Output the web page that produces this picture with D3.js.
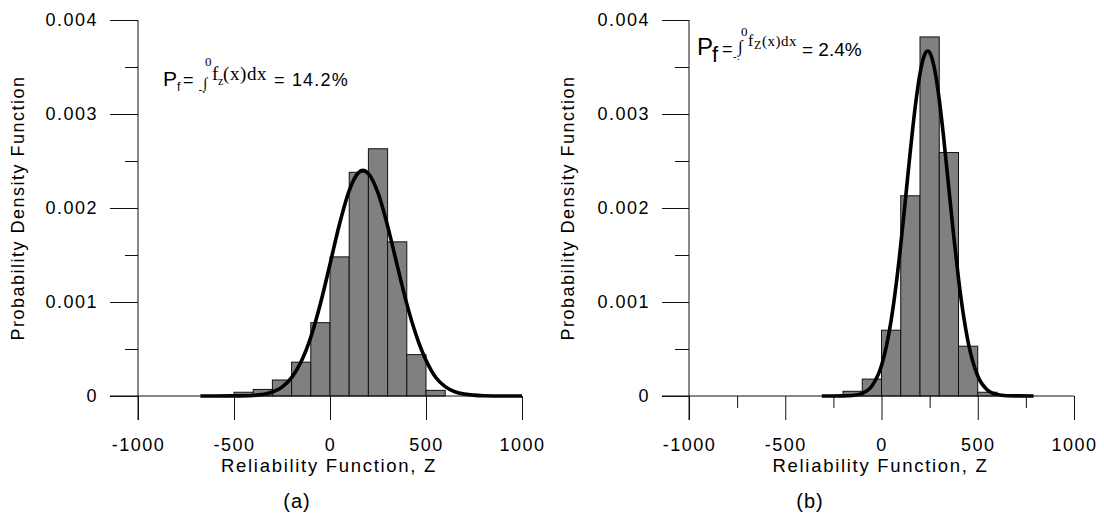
<!DOCTYPE html>
<html>
<head>
<meta charset="utf-8">
<script src="https://cdn.jsdelivr.net/npm/d3@7"></script>
<style>
  body { margin: 0; background: #fff; }
  svg { display: block; }
  text { font-family: "Liberation Sans", Arial, sans-serif; fill: #000; }
  .serif { font-family: "Liberation Serif", "Times New Roman", serif; }
</style>
</head>
<body>
<svg id="chart" width="1104" height="527"></svg>
<script>
// ---------- data ----------
const xTickValues = [-1000, -500, 0, 500, 1000];
const xTickLabels = ["-1000", "-500", "0", "500", "1000"];
const yTickValues = [0, 0.001, 0.002, 0.003, 0.004];
const yTickLabels = ["0", "0.001", "0.002", "0.003", "0.004"];
const yMinorValues = [0.0005, 0.0015, 0.0025, 0.0035];
const rightXMinorValues = [-750, -250, 250, 750];

// (a) histogram
const leftBinEdges = [-500, -400, -300, -200, -100, 0, 100, 200, 300, 400, 500, 600];
const leftBinHeights = [0.00004, 0.00007, 0.00017, 0.00036, 0.00078, 0.00148, 0.00238, 0.00263, 0.00164, 0.00044, 0.00006];
// (a) fitted density curve
const leftCurveX = [-675, -600, -500, -400, -300, -250, -200, -150, -100, -50, 0, 50, 100, 150, 172, 200, 250, 300, 350, 400, 450, 500, 550, 600, 650, 700, 800, 900, 1000];
const leftCurveY = [0, 0, 0.000001, 0.000006, 0.000042, 0.000095, 0.000195, 0.000366, 0.000627, 0.000982, 0.001403, 0.001832, 0.002185, 0.002379, 0.0024, 0.002366, 0.002160, 0.001810, 0.00139, 0.00098, 0.00064, 0.00038, 0.0002, 0.0001, 0.000045, 0.00002, 0.000003, 0, 0];

// (b) histogram
const rightBinEdges = [-200, -100, 0, 100, 200, 300, 400, 500, 600];
const rightBinHeights = [0.00005, 0.00018, 0.0007, 0.00213, 0.00382, 0.00259, 0.00053, 0.00004];
// (b) fitted density curve
const rightCurveX = [-310, -250, -200, -150, -100, -50, 0, 25, 50, 75, 100, 125, 150, 175, 200, 225, 240, 250, 275, 300, 325, 350, 375, 400, 425, 450, 500, 550, 600, 650, 700, 790];
const rightCurveY = [0, 0, 0.000001, 0.000006, 0.000028, 0.000106, 0.000325, 0.000525, 0.000804, 0.001167, 0.001609, 0.002104, 0.00261, 0.003073, 0.003431, 0.003635, 0.00367, 0.003655, 0.003485, 0.003154, 0.002708, 0.002206, 0.001704, 0.00125, 0.00087, 0.000574, 0.000213, 0.000064, 0.000016, 0.000003, 0.000001, 0];

const panelLabels = ["(a)", "(b)"];
const pfValues = ["14.2%", "2.4%"];
const xTitle = "Reliability Function, Z";
const yTitle = "Probability Density Function";

// ---------- drawing ----------
const svg = d3.select("#chart");
const LS = "1.5px";

function panel(cfg) {
  const x = d3.scaleLinear().domain([-1000, 1000]).range([cfg.x0, cfg.x1]);
  const y = d3.scaleLinear().domain([0, 0.004]).range([cfg.y0, cfg.y1]);
  const g = svg.append("g");

  // bars
  const bins = cfg.heights.map((h, i) => ({ a: cfg.edges[i], b: cfg.edges[i + 1], h }));
  g.selectAll("rect.bar").data(bins).enter().append("rect")
    .attr("x", d => x(d.a)).attr("width", d => x(d.b) - x(d.a))
    .attr("y", d => y(d.h)).attr("height", d => y(0) - y(d.h))
    .attr("fill", "#808080").attr("stroke", "#111").attr("stroke-width", 1);

  // curve
  const pts = cfg.cx.map((v, i) => [v, cfg.cy[i]]);
  g.append("path").datum(pts)
    .attr("d", d3.line().x(d => x(d[0])).y(d => y(d[1])).curve(d3.curveMonotoneX))
    .attr("fill", "none").attr("stroke", "#000").attr("stroke-width", 3.6)
    .attr("stroke-linejoin", "round");

  // y axis
  const yAxis = d3.axisLeft(y).tickValues(yTickValues).tickSize(cfg.yMajor)
    .tickFormat((d, i) => yTickLabels[i]).tickPadding(12);
  const ya = g.append("g").attr("transform", `translate(${cfg.x0},0)`).call(yAxis);
  ya.select(".domain").remove();
  ya.selectAll("text").style("font-size", "18px").style("letter-spacing", LS).attr("font-family", null);
  const yMinor = d3.axisLeft(y).tickValues(yMinorValues).tickSize(cfg.yMinor).tickFormat("");
  const ym = g.append("g").attr("transform", `translate(${cfg.x0},0)`).call(yMinor);
  ym.select(".domain").remove();

  // x axis (ticks down)
  const xAxis = d3.axisBottom(x).tickValues(xTickValues).tickSize(cfg.xMajor)
    .tickFormat((d, i) => xTickLabels[i]).tickPadding(18);
  const xa = g.append("g").attr("transform", `translate(0,${cfg.y0})`).call(xAxis);
  xa.select(".domain").remove();
  xa.selectAll("text").style("font-size", "18px").style("letter-spacing", LS).attr("font-family", null);
  if (cfg.xMinorValues) {
    const xm = g.append("g").attr("transform", `translate(0,${cfg.y0})`)
      .call(d3.axisBottom(x).tickValues(cfg.xMinorValues).tickSize(cfg.xMinor).tickFormat(""));
    xm.select(".domain").remove();
  }
  g.selectAll(".tick line").attr("stroke", "#111");

  // axis lines
  g.append("line").attr("x1", cfg.x0).attr("x2", cfg.x0).attr("y1", y(0.004)).attr("y2", cfg.y0 + cfg.xMajor)
    .attr("stroke", "#111");
  g.append("line").attr("x1", cfg.x0 - cfg.yMajor).attr("x2", cfg.x1).attr("y1", cfg.y0).attr("y2", cfg.y0)
    .attr("stroke", "#111");

  // titles
  g.append("text").attr("x", (cfg.x0 + cfg.x1) / 2 - 1).attr("y", 472).attr("text-anchor", "middle")
    .style("font-size", "18.5px").style("letter-spacing", "1.7px").text(xTitle);
  g.append("text").attr("transform", `translate(${cfg.yTitleX},208) rotate(-90)`).attr("text-anchor", "middle")
    .style("font-size", "18px").style("letter-spacing", LS).text(yTitle);
  g.append("text").attr("x", cfg.labelX).attr("y", 508).attr("text-anchor", "middle")
    .style("font-size", "20px").style("letter-spacing", "1px").text(cfg.label);
  return g;
}

const gA = panel({ x0: 138, x1: 522, y0: 396, y1: 20, edges: leftBinEdges, heights: leftBinHeights,
  cx: leftCurveX, cy: leftCurveY, yMajor: 28, yMinor: 13, xMajor: 24, xMinor: 12,
  yTitleX: 24, labelX: 297, label: panelLabels[0] });
const gB = panel({ x0: 689, x1: 1074, y0: 396, y1: 20, edges: rightBinEdges, heights: rightBinHeights,
  cx: rightCurveX, cy: rightCurveY, yMajor: 27, yMinor: 14, xMajor: 24, xMinor: 12,
  xMinorValues: rightXMinorValues, yTitleX: 574, labelX: 810, label: panelLabels[1] });

// formulas: one text element per formula, pieces placed as tspans
function formula(g, parts) {
  const txt = g.append("text");
  parts.forEach(p => {
    const s = txt.append("tspan").attr("x", p[0]).attr("y", p[1])
      .style("font-size", p[3] + "px").text(p[2]);
    if (p[4]) s.attr("class", "serif");
    if (p[5]) s.style("letter-spacing", p[5]);
  });
  return txt;
}
// (a)
formula(gA, [
  [163, 86, "P", 21],
  [177, 91, "f", 12],
  [183, 86, "=", 18],
  [198.5, 93, "-.", 11],
  [203, 88, "\u222B", 15, true],
  [205, 66, "0", 13, true],
  [212, 80, "f", 19, true],
  [218, 85, "z", 12, true],
  [223, 80, "(x)dx", 19, true, "0.6px"],
  [274, 86, "= " + pfValues[0], 18, false, "1.2px"]
]);
// (b)
formula(gB, [
  [697, 55, "P", 24],
  [712, 62, "f", 22],
  [722, 55, "=", 18],
  [733, 60, "-.", 11],
  [738, 52, "\u222B", 17, true],
  [741, 36, "0", 13, true],
  [748, 46, "f", 16, true],
  [754, 49, "Z", 12, true],
  [762, 46, "(x)dx", 15, true, "0.5px"],
  [802, 56, "= " + pfValues[1], 19]
]);
</script>
</body>
</html>
